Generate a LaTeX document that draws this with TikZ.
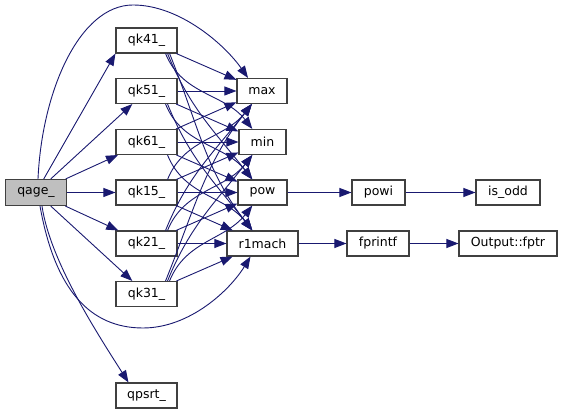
\documentclass[tikz,border=0pt]{standalone}
\usepackage{fontspec}
\setmainfont{DejaVu Sans}
\usetikzlibrary{arrows.meta,calc}
\definecolor{edgeblue}{RGB}{25,25,112}
\definecolor{boxline}{RGB}{64,64,64}
\definecolor{grayfill}{RGB}{191,191,191}
\begin{document}
\begin{tikzpicture}[x=1pt,y=1pt,
  fn/.style={draw=boxline,line width=1.1pt,fill=white,minimum height=25pt,inner sep=0pt,
    font=\fontsize{12.5}{14}\selectfont},
  call/.style={draw=edgeblue,line width=0.9pt,-{Triangle[length=12pt,width=9pt]}},
  down/.style={out=-68,in=128},
  up/.style={out=68,in=-128}]
\useasboundingbox (0,0) rectangle (563,414);
% nodes
\node[fn,fill=grayfill,minimum width=61pt,minimum height=26pt] (qage) at (36,221.5) {qage\_};
\node[fn,minimum width=61pt] (qk41) at (146.5,373.5) {qk41\_};
\node[fn,minimum width=61pt] (qk51) at (146.5,323) {qk51\_};
\node[fn,minimum width=61pt] (qk61) at (146.5,272) {qk61\_};
\node[fn,minimum width=61pt] (qk15) at (146.5,221.5) {qk15\_};
\node[fn,minimum width=61pt] (qk21) at (146.5,170.5) {qk21\_};
\node[fn,minimum width=61pt] (qk31) at (146.5,120) {qk31\_};
\node[fn,minimum width=61pt] (qpsrt) at (146.5,18.5) {qpsrt\_};
\node[fn,minimum width=50pt] (max) at (262,323) {max};
\node[fn,minimum width=47pt] (min) at (262.5,272) {min};
\node[fn,minimum width=49pt] (pow) at (262.5,221.5) {pow};
\node[fn,minimum width=71pt] (r1mach) at (262.5,170.5) {r1mach};
\node[fn,minimum width=53pt] (powi) at (378.5,221.5) {powi};
\node[fn,minimum width=62pt] (fprintf) at (378,170.5) {fprintf};
\node[fn,minimum width=64pt] (isodd) at (508,221.5) {is\_odd};
\node[fn,minimum width=98pt] (fptr) at (508,170.5) {Output::fptr};
% qage edges
\draw[call] (qage) -- (qk41.south west);
\draw[call] (qage) -- (qk51);
\draw[call] (qage) -- (qk61);
\draw[call] (qage) -- (qk15);
\draw[call] (qage) -- (qk21);
\draw[call] (qage) -- (qk31);
\draw[call] ([xshift=2pt]qage.north) .. controls (42,324) and (80,409) .. (133,409)
  .. controls (180,409) and (225,369) .. ([xshift=-14pt]max.north);
\draw[call] ([xshift=4pt]qage.south) .. controls (55,124) and (90,86) .. (143,86)
  .. controls (190,86) and (230,124) .. ([xshift=-12pt]r1mach.south);
\draw[call] ([xshift=6pt]qage.south) .. controls (50,154) and (95,84) .. ([xshift=-18pt]qpsrt.north);
% qk41
\draw[call] (qk41) -- (max);
\draw[call] ([xshift=-12pt]qk41.south east) to[down] (min);
\draw[call] ([xshift=-10pt]qk41.south east) to[down] (pow);
\draw[call] ([xshift=-8pt]qk41.south east) to[down] (r1mach);
% qk51
\draw[call] (qk51) -- (max);
\draw[call] (qk51) -- (min);
\draw[call] ([xshift=-12pt]qk51.south east) to[down] (pow);
\draw[call] ([xshift=-10pt]qk51.south east) to[down] (r1mach);
% qk61
\draw[call] (qk61) -- (max);
\draw[call] (qk61) -- (min);
\draw[call] (qk61) -- (pow);
\draw[call] ([xshift=-10pt]qk61.south east) to[down] (r1mach);
% qk15
\draw[call] ([xshift=-10pt]qk15.north east) to[up] (max);
\draw[call] (qk15) -- (min);
\draw[call] (qk15) -- (pow);
\draw[call] (qk15) -- (r1mach);
% qk21
\draw[call] ([xshift=-12pt]qk21.north east) to[up] (max);
\draw[call] ([xshift=-10pt]qk21.north east) to[up] (min);
\draw[call] (qk21) -- (pow);
\draw[call] (qk21) -- (r1mach);
% qk31
\draw[call] ([xshift=-12pt]qk31.north east) to[up] (max);
\draw[call] ([xshift=-10pt]qk31.north east) to[up] (min);
\draw[call] ([xshift=-8pt]qk31.north east) to[up] (pow);
\draw[call] (qk31) -- (r1mach);
% right part
\draw[call] (pow) -- (powi);
\draw[call] (powi) -- (isodd);
\draw[call] (r1mach) -- (fprintf);
\draw[call] (fprintf) -- (fptr);
\end{tikzpicture}
\end{document}
